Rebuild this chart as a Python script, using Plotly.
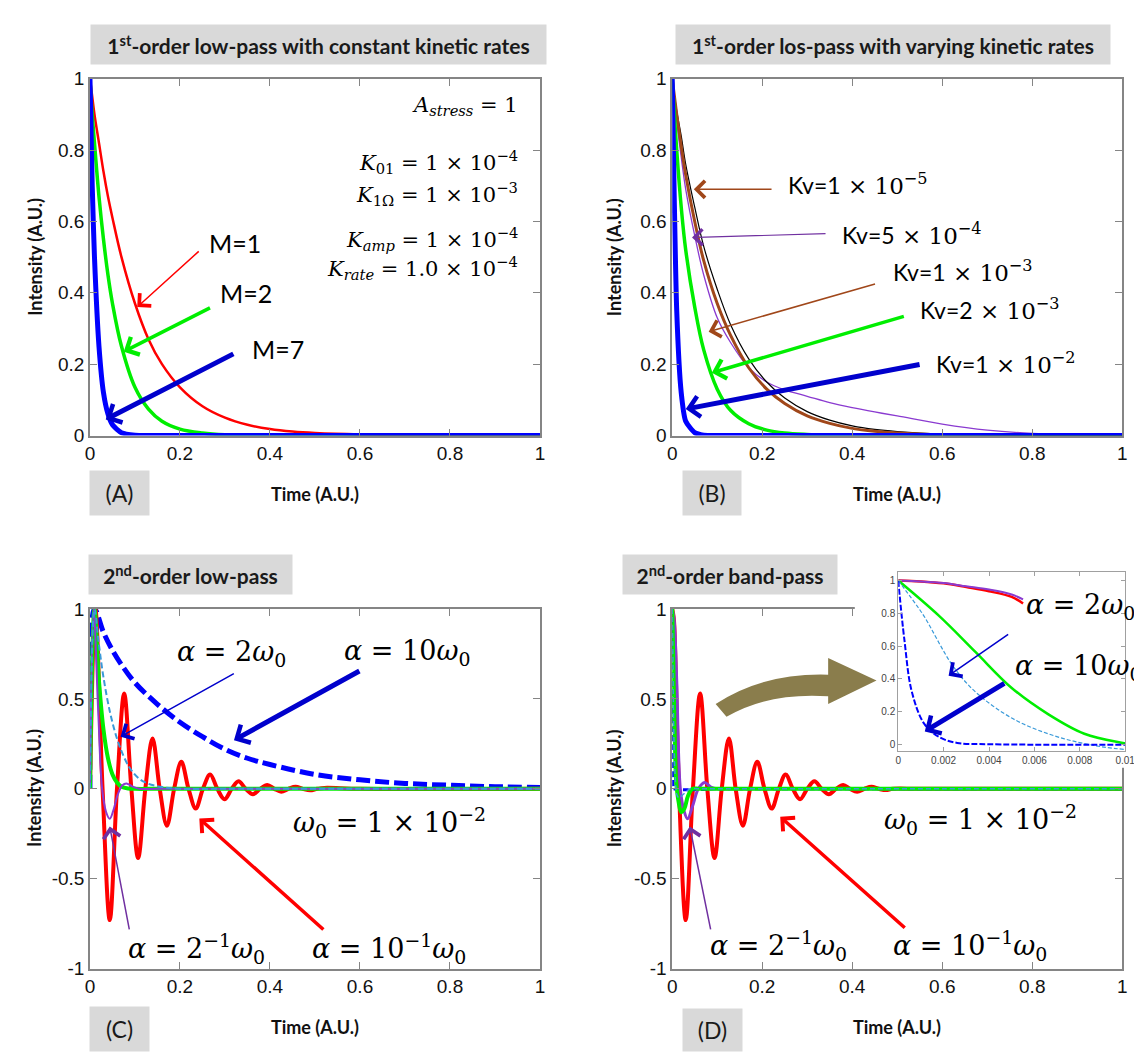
import plotly.graph_objects as go

# ---------------- DATA ----------------
x_ticks = [0, 0.2, 0.4, 0.6, 0.8, 1]
x_ticktext = ["0", "0.2", "0.4", "0.6", "0.8", "1"]
y_ticks_ab = [0, 0.2, 0.4, 0.6, 0.8, 1]
y_ticktext_ab = ["0", "0.2", "0.4", "0.6", "0.8", "1"]
y_ticks_cd = [-1, -0.5, 0, 0.5, 1]
y_ticktext_cd = ["-1", "-0.5", "0", "0.5", "1"]
inset_x_ticks = [0, 0.002, 0.004, 0.006, 0.008, 0.01]
inset_x_ticktext = ["0", "0.002", "0.004", "0.006", "0.008", "0.01"]
inset_y_ticks = [0, 0.2, 0.4, 0.6, 0.8, 1]
inset_y_ticktext = ["0", "0.2", "0.4", "0.6", "0.8", "1"]

# Panel A
a_t = [0, 0.005, 0.01, 0.02, 0.03, 0.04, 0.05, 0.07, 0.1, 0.13, 0.16, 0.2, 0.25, 0.3, 0.35, 0.4, 0.45, 0.5, 0.6, 0.8, 1.0]
a_m1 = [1.0, 0.95, 0.9, 0.82, 0.74, 0.67, 0.61, 0.5, 0.37, 0.27, 0.2, 0.135, 0.082, 0.05, 0.03, 0.018, 0.011, 0.007, 0.003, 0.0, 0.0]
a_m2 = [1.0, 0.9, 0.82, 0.67, 0.55, 0.45, 0.37, 0.25, 0.135, 0.074, 0.04, 0.018, 0.007, 0.002, 0.001, 0.0, 0.0, 0.0, 0.0, 0.0, 0.0]
a_m7 = [1.0, 0.7, 0.5, 0.25, 0.12, 0.06, 0.03, 0.008, 0.001, 0.0, 0.0, 0.0, 0.0, 0.0, 0.0, 0.0, 0.0, 0.0, 0.0, 0.0, 0.0]

# Panel B
b_t = [0, 0.01, 0.02, 0.03, 0.05, 0.07, 0.1, 0.13, 0.17, 0.21, 0.25, 0.3, 0.35, 0.4, 0.45, 0.5, 0.6, 0.7, 0.8, 0.9, 1.0]
b_kv_1e5 = [1.0, 0.91, 0.84, 0.76, 0.64, 0.53, 0.41, 0.31, 0.215, 0.15, 0.105, 0.067, 0.043, 0.027, 0.017, 0.011, 0.004, 0.002, 0.001, 0.0, 0.0]
b_kv_5e4 = [1.0, 0.88, 0.78, 0.69, 0.56, 0.45, 0.33, 0.26, 0.19, 0.15, 0.128, 0.11, 0.092, 0.078, 0.066, 0.055, 0.032, 0.015, 0.006, 0.003, 0.001]
b_kv_1e3 = [1.0, 0.9, 0.81, 0.73, 0.6, 0.49, 0.37, 0.28, 0.19, 0.13, 0.09, 0.055, 0.034, 0.02, 0.012, 0.007, 0.002, 0.001, 0.0, 0.0, 0.0]
b_kv_2e3 = [1.0, 0.8, 0.64, 0.52, 0.36, 0.24, 0.13, 0.07, 0.033, 0.015, 0.007, 0.003, 0.001, 0.0, 0.0, 0.0, 0.0, 0.0, 0.0, 0.0, 0.0]
b_kv_1e2 = [1.0, 0.35, 0.12, 0.04, 0.008, 0.001, 0.0, 0.0, 0.0, 0.0, 0.0, 0.0, 0.0, 0.0, 0.0, 0.0, 0.0, 0.0, 0.0, 0.0, 0.0]

# Panel C (2nd-order low-pass)
c_red_t = [0, 0.012, 0.028, 0.044, 0.060, 0.076, 0.092, 0.107, 0.123, 0.139, 0.155, 0.171, 0.187, 0.203, 0.219, 0.235, 0.251, 0.267, 0.283, 0.299, 0.315, 0.330, 0.346, 0.362, 0.378, 0.394, 0.410, 0.425, 0.441, 0.457, 0.473, 0.489, 0.505, 0.521, 0.6, 1.0]
c_red_y = [0.0, 1.0, 0.0, -0.73, 0.0, 0.53, 0.0, -0.385, 0.0, 0.28, 0.0, -0.205, 0.0, 0.15, 0.0, -0.11, 0.0, 0.08, 0.0, -0.058, 0.0, 0.042, 0.0, -0.03, 0.0, 0.022, 0.0, -0.016, 0.0, 0.011, 0.0, -0.008, 0.0, 0.005, 0.0, 0.0]
c_green_t = [0, 0.010, 0.02, 0.03, 0.04, 0.05, 0.06, 0.07, 0.085, 0.1, 0.15, 0.3, 0.6, 1.0]
c_green_y = [0.0, 1.0, 0.6, 0.33, 0.17, 0.08, 0.035, 0.012, 0.002, 0.0, 0.0, 0.0, 0.0, 0.0]
c_purple_t = [0, 0.008, 0.018, 0.027, 0.036, 0.044, 0.052, 0.062, 0.072, 0.081, 0.095, 0.11, 0.15, 0.3, 0.6, 1.0]
c_purple_y = [0.0, 1.0, 0.45, 0.0, -0.13, -0.167, -0.12, -0.03, 0.02, 0.03, 0.012, 0.0, 0.0, 0.0, 0.0, 0.0]
c_cyan_t = [0, 0.01, 0.02, 0.03, 0.045, 0.06, 0.075, 0.09, 0.11, 0.13, 0.16, 0.2, 0.3, 0.6, 1.0]
c_cyan_y = [0.0, 1.0, 0.8, 0.62, 0.42, 0.28, 0.18, 0.11, 0.055, 0.028, 0.01, 0.0, 0.0, 0.0, 0.0]
c_blue_t = [0, 0.01, 0.03, 0.05, 0.07, 0.1, 0.15, 0.2, 0.25, 0.3, 0.35, 0.4, 0.5, 0.6, 0.7, 0.8, 0.9, 1.0]
c_blue_y = [0.0, 1.0, 0.87, 0.77, 0.69, 0.59, 0.47, 0.37, 0.29, 0.22, 0.17, 0.135, 0.08, 0.05, 0.03, 0.02, 0.012, 0.008]

# Panel D (2nd-order band-pass)
d_red_t = [0, 0.0034, 0.0055, 0.015, 0.030, 0.046, 0.062, 0.078, 0.094, 0.110, 0.126, 0.141, 0.157, 0.173, 0.189, 0.205, 0.221, 0.237, 0.252, 0.268, 0.284, 0.300, 0.316, 0.332, 0.348, 0.364, 0.380, 0.395, 0.411, 0.427, 0.443, 0.459, 0.475, 0.49, 0.55, 1.0]
d_red_y = [1.0, 0.95, 0.85, 0.0, -0.73, 0.0, 0.53, 0.0, -0.385, 0.0, 0.28, 0.0, -0.205, 0.0, 0.15, 0.0, -0.11, 0.0, 0.08, 0.0, -0.058, 0.0, 0.042, 0.0, -0.03, 0.0, 0.022, 0.0, -0.016, 0.0, 0.011, 0.0, -0.007, 0.0, 0.0, 0.0]
d_purple_t = [0, 0.0034, 0.0055, 0.01, 0.018, 0.026, 0.034, 0.046, 0.058, 0.072, 0.086, 0.1, 0.13, 0.25, 0.5, 1.0]
d_purple_y = [1.0, 0.96, 0.9, 0.6, 0.0, -0.12, -0.167, -0.09, 0.0, 0.035, 0.01, 0.0, 0.0, 0.0, 0.0, 0.0]
d_green_t = [0, 0.0018, 0.0034, 0.005, 0.0066, 0.0082, 0.0099, 0.014, 0.02, 0.027, 0.035, 0.045, 0.06, 0.1, 0.25, 0.5, 1.0]
d_green_y = [1.0, 0.784, 0.564, 0.344, 0.184, 0.064, 0.008, -0.07, -0.13, -0.11, -0.04, 0.0, 0.0, 0.0, 0.0, 0.0, 0.0]
d_cyan_t = [0, 0.0007, 0.00115, 0.0024, 0.0034, 0.005, 0.0066, 0.0082, 0.01, 0.015, 0.025, 0.04, 0.06, 0.1, 0.3, 0.6, 1.0]
d_cyan_y = [1.0, 0.87, 0.78, 0.48, 0.32, 0.16, 0.064, 0.004, -0.032, -0.05, -0.03, 0.0, 0.0, 0.0, 0.0, 0.0, 0.0]
d_blue_t = [0, 0.00027, 0.0006, 0.00115, 0.0018, 0.0026, 0.004, 0.01, 0.03, 0.06, 0.1, 0.3, 0.6, 1.0]
d_blue_y = [1.0, 0.64, 0.32, 0.124, 0.044, 0.008, 0.0, -0.003, -0.005, -0.004, 0.0, 0.0, 0.0, 0.0]

# Inset of panel D (zoom on 0..0.01)
inset_red_t = [0, 0.001, 0.002, 0.003, 0.004, 0.005, 0.0055]
inset_red_y = [1.0, 0.995, 0.983, 0.96, 0.935, 0.9, 0.86]
inset_purple_t = [0, 0.001, 0.002, 0.003, 0.004, 0.005, 0.0055]
inset_purple_y = [1.0, 0.995, 0.985, 0.965, 0.945, 0.915, 0.885]

# ---------------- LAYOUT HELPERS ----------------
W, H = 1142, 1054


def px(x):
    return x / W


def py(y):
    return 1 - y / H


SANS = "Lato, Open Sans, sans-serif"
SERIF = "DejaVu Serif, Liberation Serif, serif"
TICKF = "Liberation Sans, Arial, sans-serif"

fig = go.Figure()


def line(xs, ys, color, width, n, dash=None, smoothing=1.0):
    fig.add_trace(go.Scatter(
        x=xs, y=ys, mode="lines",
        line=dict(color=color, width=width, dash=dash, shape="spline", smoothing=smoothing),
        xaxis="x" if n == 1 else f"x{n}", yaxis="y" if n == 1 else f"y{n}",
        showlegend=False, hoverinfo="skip"))


RED = "#ff0000"
GREEN = "#00ee00"
BLUE = "#0000ff"
PURPLE = "#8a3ad0"
BROWN = "#a0471a"
CYAN = "#3a9ad9"

# Panel A
line(a_t, a_m1, RED, 2.5, 1)
line(a_t, a_m2, GREEN, 3.5, 1)
line(a_t, a_m7, BLUE, 5, 1, smoothing=0.6)
# Panel B
line(b_t, b_kv_5e4, PURPLE, 1.3, 2)
line(b_t, b_kv_1e5, "#000000", 1.2, 2)
line(b_t, b_kv_1e3, BROWN, 3, 2)
line(b_t, b_kv_2e3, GREEN, 3.5, 2)
line(b_t, b_kv_1e2, BLUE, 5, 2, smoothing=0.6)
# Panel C
line(c_blue_t, c_blue_y, BLUE, 5, 3, dash="14px,5px")
line(c_red_t, c_red_y, RED, 4, 3)
line(c_green_t, c_green_y, GREEN, 4, 3)
line(c_purple_t, c_purple_y, PURPLE, 2, 3)
line(c_cyan_t, c_cyan_y, CYAN, 2, 3, dash="6px,3px")
# Panel D
line(d_red_t, d_red_y, RED, 4, 4)
line(d_blue_t, d_blue_y, BLUE, 3, 4, dash="6px,3px")
line(d_purple_t, d_purple_y, PURPLE, 3, 4)
line(d_green_t, d_green_y, GREEN, 4, 4)
line(d_cyan_t, d_cyan_y, CYAN, 1.5, 4, dash="5px,3px")
# white mask subplot (covers D under the inset picture)
fig.add_trace(go.Scatter(x=[None], y=[None], xaxis="x5", yaxis="y5", showlegend=False, hoverinfo="skip"))
# Inset
line(inset_red_t, inset_red_y, RED, 2.5, 6)
line(inset_purple_t, inset_purple_y, PURPLE, 2, 6)
line(d_green_t, d_green_y, GREEN, 2.5, 6)
line(d_cyan_t, d_cyan_y, CYAN, 1.2, 6, dash="4px,2px")
line(d_blue_t, d_blue_y, BLUE, 2, 6, dash="6px,2px")

AXCOL = "#858585"
base_ax = dict(showgrid=False, zeroline=False, showline=True, linecolor=AXCOL, linewidth=1.5,
               mirror="ticks", ticks="inside", ticklen=7, tickwidth=1.2, tickcolor=AXCOL,
               tickfont=dict(family=TICKF, size=19, color="#111111"), fixedrange=True)

dom_A_x = [px(78), px(534)]
dom_B_x = [px(668), px(1124)]
dom_top_y = [py(426), py(62)]
dom_bot_y = [py(970), py(603)]

layout = dict(
    width=W, height=H, margin=dict(l=0, r=0, t=0, b=0),
    paper_bgcolor="white", plot_bgcolor="white", showlegend=False,
    xaxis=dict(base_ax, domain=dom_A_x, range=[0, 1], tickvals=x_ticks, ticktext=x_ticktext, anchor="y"),
    yaxis=dict(base_ax, domain=dom_top_y, range=[0, 1], tickvals=y_ticks_ab, ticktext=y_ticktext_ab, anchor="x"),
    xaxis2=dict(base_ax, domain=dom_B_x, range=[0, 1], tickvals=x_ticks, ticktext=x_ticktext, anchor="y2"),
    yaxis2=dict(base_ax, domain=dom_top_y, range=[0, 1], tickvals=y_ticks_ab, ticktext=y_ticktext_ab, anchor="x2"),
    xaxis3=dict(base_ax, domain=dom_A_x, range=[0, 1], tickvals=x_ticks, ticktext=x_ticktext, anchor="y3"),
    yaxis3=dict(base_ax, domain=dom_bot_y, range=[-1, 1], tickvals=y_ticks_cd, ticktext=y_ticktext_cd, anchor="x3"),
    xaxis4=dict(base_ax, domain=dom_B_x, range=[0, 1], tickvals=x_ticks, ticktext=x_ticktext, anchor="y4"),
    yaxis4=dict(base_ax, domain=dom_bot_y, range=[-1, 1], tickvals=y_ticks_cd, ticktext=y_ticktext_cd, anchor="x4"),
    xaxis5=dict(domain=[px(853), 1.0], range=[0, 1], visible=False, anchor="y5", fixedrange=True),
    yaxis5=dict(domain=[py(765), py(553)], range=[0, 1], visible=False, anchor="x5", fixedrange=True),
    xaxis6=dict(base_ax, domain=[px(897), px(1127)], range=[0, 0.01], tickvals=inset_x_ticks,
                ticktext=inset_x_ticktext, anchor="y6", linewidth=1, ticklen=4, tickwidth=1,
                linecolor="#a0a0a0", tickcolor="#a0a0a0",
                tickfont=dict(family=TICKF, size=10, color="#444444")),
    yaxis6=dict(base_ax, domain=[py(748), py(565)], range=[-0.042, 1.054], tickvals=inset_y_ticks,
                ticktext=inset_y_ticktext, anchor="x6", linewidth=1, ticklen=4, tickwidth=1,
                linecolor="#a0a0a0", tickcolor="#a0a0a0",
                tickfont=dict(family=TICKF, size=10, color="#444444")),
)
fig.update_layout(**layout)

ann = []


def box(cx, cy, w, h, text, size, bold=False):
    t = f"<b>{text}</b>" if bold else text
    ann.append(dict(x=px(cx), y=py(cy), xref="paper", yref="paper", xanchor="center", yanchor="middle",
                    text=t, showarrow=False, bgcolor="#d9d9d9", width=w, height=h, borderpad=0,
                    font=dict(family=SANS, size=size, color="#1a1a1a")))


def ptext(cx, cy, text, size, angle=0):
    ann.append(dict(x=px(cx), y=py(cy), xref="paper", yref="paper", xanchor="center", yanchor="middle",
                    text=f"<b>{text}</b>", showarrow=False, textangle=angle,
                    font=dict(family=SANS, size=size, color="#111111")))


def dtext(n, x, y, text, size, family, xanchor="left"):
    ann.append(dict(x=x, y=y, xref="x" if n == 1 else f"x{n}", yref="y" if n == 1 else f"y{n}",
                    xanchor=xanchor, yanchor="middle", text=text, showarrow=False,
                    font=dict(family=family, size=size, color="#000000")))


def arrow(n, tail, head, color, width, size, headstyle=4):
    xr = "x" if n == 1 else f"x{n}"
    yr = "y" if n == 1 else f"y{n}"
    ann.append(dict(x=head[0], y=head[1], ax=tail[0], ay=tail[1], xref=xr, yref=yr, axref=xr, ayref=yr,
                    text="", showarrow=True, arrowhead=headstyle, arrowsize=size, arrowwidth=width,
                    arrowcolor=color, standoff=0, startstandoff=0))


# Title boxes
box(310, 27.5, 455, 39, "1<sup>st</sup>-order low-pass with constant kinetic rates", 21, True)
box(892, 27.5, 434, 39, "1<sup>st</sup>-order los-pass with varying kinetic rates", 21, True)
box(179.5, 567.5, 203, 39, "2<sup>nd</sup>-order low-pass", 21, True)
box(727, 567.5, 214, 39, "2<sup>nd</sup>-order band-pass", 21, True)
# Panel letter boxes
box(107.5, 485, 59, 44, "(A)", 23)
box(708, 485, 58, 44, "(B)", 23)
box(107.5, 1032, 59, 44, "(C)", 23)
box(708.5, 1033, 59, 42, "(D)", 23)
# Axis titles
for cx, cy in [(306, 486), (896, 486), (306, 1030), (896, 1030)]:
    ptext(cx, cy, "Time (A.U.)", 18)
for cx, cy in [(22, 244), (609, 244), (22, 786), (609, 786)]:
    ptext(cx, cy, "Intensity (A.U.)", 18, angle=-90)

# Panel A annotations
MS = 21
dtext(1, 0.955, 0.923, "<i>A</i><sub><i>stress</i></sub> = 1", MS, SERIF, "right")
dtext(1, 0.955, 0.766, "<i>K</i><sub>01</sub> = 1 × 10<sup>−4</sup>", MS, SERIF, "right")
dtext(1, 0.955, 0.676, "<i>K</i><sub>1Ω</sub> = 1 × 10<sup>−3</sup>", MS, SERIF, "right")
dtext(1, 0.955, 0.552, "<i>K</i><sub><i>amp</i></sub> = 1 × 10<sup>−4</sup>", MS, SERIF, "right")
dtext(1, 0.955, 0.470, "<i>K</i><sub><i>rate</i></sub> = 1.0 × 10<sup>−4</sup>", MS, SERIF, "right")
dtext(1, 0.26, 0.54, "M=1", 25, SANS)
dtext(1, 0.285, 0.40, "M=2", 25, SANS)
dtext(1, 0.355, 0.242, "M=7", 25, SANS)
arrow(1, (0.245, 0.52), (0.105, 0.36), RED, 1.5, 2.2)
arrow(1, (0.27, 0.36), (0.075, 0.235), GREEN, 3.5, 1.1)
arrow(1, (0.322, 0.231), (0.035, 0.045), "#0000cc", 5, 0.8)

# Panel B annotations
def kv(x, y, lead, exp):
    dtext(2, x, y, f"Kv={lead}<span style='font-family:{SERIF.split(',')[0]}'> × 10<sup>−{exp}</sup></span>", 23, SANS)


kv(0.252, 0.705, "1", 5)
kv(0.373, 0.566, "5", 4)
kv(0.487, 0.46, "1", 3)
kv(0.546, 0.355, "2", 3)
kv(0.581, 0.203, "1", 2)
arrow(2, (0.224, 0.69), (0.048, 0.69), BROWN, 1.5, 2.2)
arrow(2, (0.344, 0.566), (0.044, 0.555), "#7030a0", 1.2, 2.6)
arrow(2, (0.454, 0.426), (0.081, 0.291), BROWN, 1.5, 2.2)
arrow(2, (0.518, 0.335), (0.088, 0.176), GREEN, 3.5, 1.1)
arrow(2, (0.553, 0.2), (0.03, 0.074), "#0000cc", 5, 0.8)

# Panel C annotations
AS = 27
dtext(3, 0.188, 0.75, "<i>α</i> = 2<i>ω</i><sub>0</sub>", AS, SERIF)
dtext(3, 0.56, 0.76, "<i>α</i> = 10<i>ω</i><sub>0</sub>", AS, SERIF)
dtext(3, 0.447, -0.19, "<i>ω</i><sub>0</sub> = 1 × 10<sup>−2</sup>", AS, SERIF)
dtext(3, 0.08, -0.89, "<i>α</i> = 2<sup>−1</sup><i>ω</i><sub>0</sub>", AS, SERIF)
dtext(3, 0.49, -0.89, "<i>α</i> = 10<sup>−1</sup><i>ω</i><sub>0</sub>", AS, SERIF)
arrow(3, (0.323, 0.645), (0.068, 0.29), "#0000cc", 1.5, 2.2)
arrow(3, (0.602, 0.66), (0.32, 0.27), "#0000cc", 5, 0.8)
arrow(3, (0.088, -0.79), (0.044, -0.21), "#7030a0", 1.5, 2.2)
arrow(3, (0.522, -0.79), (0.243, -0.165), RED, 3.5, 1.0)

# Panel D annotations
dtext(4, 0.467, -0.17, "<i>ω</i><sub>0</sub> = 1 × 10<sup>−2</sup>", AS, SERIF)
dtext(4, 0.079, -0.87, "<i>α</i> = 2<sup>−1</sup><i>ω</i><sub>0</sub>", AS, SERIF)
dtext(4, 0.487, -0.87, "<i>α</i> = 10<sup>−1</sup><i>ω</i><sub>0</sub>", AS, SERIF)
arrow(4, (0.086, -0.79), (0.039, -0.21), "#7030a0", 1.5, 2.2)
arrow(4, (0.52, -0.78), (0.24, -0.155), RED, 3.5, 1.0)

# Inset annotations
dtext(6, 0.00552, 0.844, "<i>α</i> = 2<i>ω</i><sub>0</sub>", AS, SERIF)
dtext(6, 0.00504, 0.467, "<i>α</i> = 10<i>ω</i><sub>0</sub>", AS, SERIF)
arrow(6, (0.00491, 0.677), (0.00222, 0.419), "#0000cc", 1.5, 2.2)
arrow(6, (0.00474, 0.377), (0.00117, 0.078), "#0000cc", 5, 0.8)

fig.update_layout(annotations=ann)

# Olive curved arrow (paper shape)
pts = [("M", (712, 700)), ("Q", (760, 668), (826, 670)), ("L", (826, 653)), ("L", (875, 676)),
       ("L", (826, 700)), ("L", (826, 692)), ("Q", (765, 688), (723, 713))]
path = ""
for item in pts:
    cmd = item[0]
    coords = " ".join(f"{px(p[0]):.5f},{py(p[1]):.5f}" for p in item[1:])
    path += f"{cmd}{coords} "
path += "Z"
fig.add_shape(type="path", path=path, xref="paper", yref="paper",
              fillcolor="#8a7d4c", line=dict(width=0), layer="above")

fig.write_html("out.html")
